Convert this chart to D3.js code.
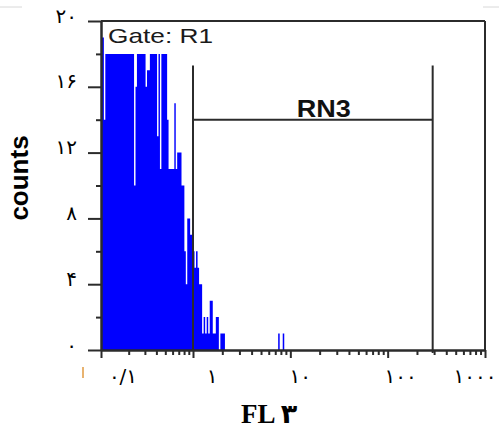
<!DOCTYPE html>
<html><head><meta charset="utf-8">
<script src="https://cdn.jsdelivr.net/npm/d3@7"></script>
<style>html,body{margin:0;padding:0;background:#fff}svg{display:block}</style>
</head><body>
<script>
// ---- data ----
// histogram: 256 log-spaced channels spanning 0.1 .. 1000 (FL3); counts per channel from channel 0
const channelCounts = [
  19,19,14,18,18,18,18,18,18,18,18,18,18,18,18,18,18,18,18,18,
  18,18,18,10,16,18,18,18,18,18,18,16,17,17,18,18,18,18,18,13,
  18,11,18,18,18,18,14,11,11,11,11,15,11,12,12,12,10,10,6,4,
  8,8,7,7,6,5,6,5,4,4,1,2,1,2,1,3,3,1,1,2,
  2,0,1,1,1,0,0,0,0,0,0,0,0,0,0,0,0,0,0,0,
  0,0,0,0,0,0,0,0,0,0,0,0,0,0,0,0,0,0,0,0,
  1,0,0,1,0
];
const channelTotal = 256;
const xDomain = [0.1, 1000];
const yDomain = [0, 20];
const yTickValues = [0, 4, 8, 12, 16, 20];
const yTickLabels = ["۰", "۴", "۸", "۱۲", "۱۶", "۲۰"];
const yMinorTicks = [2, 6, 10, 14, 18];
const xTickValues = [0.1, 1, 10, 100, 1000];
const xTickLabels = ["۰/۱", "۱", "۱۰", "۱۰۰", "۱۰۰۰"];
const gateName = "RN3";
const gateRange = [1, 290];
const gateTopCount = 17.3;
const gateBarCount = 14;
const gateTitle = "Gate: R1";
const yTitle = "counts";
const xTitle = "FL ۳";

// ---- layout / style ----
const W = 499, H = 429;
const xLabelNudge = [22, 19, 10, 13, -10];
const ink = "#2b2b2b";
const lw = 2;

const svg = d3.select("body").append("svg").attr("width", W).attr("height", H)
  .style("background", "#fff");

const x = d3.scaleLog().domain([xDomain[0], 1, xDomain[1]]).range([101, 193, 485]);
const y = d3.scaleLinear().domain(yDomain).range([350, 21]);

const decades = Math.log10(xDomain[1] / xDomain[0]);
const edge = i => xDomain[0] * Math.pow(10, decades * i / channelTotal);

// histogram
const pts = channelCounts.map((c, i) => ({ v: edge(i), c }));
pts.push({ v: edge(channelCounts.length), c: 0 });
svg.append("path")
  .datum(pts)
  .attr("fill", "#0000ff")
  .attr("d", d3.area().curve(d3.curveStepAfter)
    .x(d => x(d.v)).y0(y(0)).y1(d => y(d.c)));

// frame top & right
svg.append("line").attr("x1", x(xDomain[0])).attr("x2", x(xDomain[1]))
  .attr("y1", y(yDomain[1])).attr("y2", y(yDomain[1]))
  .attr("stroke", ink).attr("stroke-width", lw);
svg.append("line").attr("x1", x(xDomain[1])).attr("x2", x(xDomain[1]))
  .attr("y1", y(yDomain[1])).attr("y2", y(0))
  .attr("stroke", ink).attr("stroke-width", lw);

function styleAxis(g) {
  g.select(".domain").attr("stroke", ink).attr("stroke-width", lw);
  g.selectAll(".tick line").attr("stroke", ink).attr("stroke-width", lw);
}

// y axis
const yMinorG = svg.append("g").attr("transform", `translate(${x(xDomain[0])},0)`)
  .call(d3.axisLeft(y).tickValues(yMinorTicks).tickSize(5).tickSizeOuter(0).tickFormat(""));
styleAxis(yMinorG);
const yG = svg.append("g").attr("transform", `translate(${x(xDomain[0])},0)`)
  .call(d3.axisLeft(y).tickValues(yTickValues).tickSize(13).tickSizeOuter(0).tickPadding(11)
    .tickFormat((d, i) => yTickLabels[i]));
styleAxis(yG);
yG.selectAll(".tick text")
  .attr("font-family", "'DejaVu Sans', sans-serif").attr("font-size", 20)
  .attr("fill", "#000").attr("dy", "0.05em");

// x axis
const xMinor = x.ticks().filter(v => !xTickValues.some(t => Math.abs(t - v) / t < 1e-6));
const xMinorG = svg.append("g").attr("transform", `translate(0,${y(0)})`)
  .call(d3.axisBottom(x).tickValues(xMinor).tickSize(5).tickSizeOuter(0).tickFormat(""));
styleAxis(xMinorG);
const xG = svg.append("g").attr("transform", `translate(0,${y(0)})`)
  .call(d3.axisBottom(x).tickValues(xTickValues).tickSize(8).tickSizeOuter(0).tickFormat(""));
styleAxis(xG);
svg.append("g").selectAll("text").data(xTickValues).join("text")
  .attr("x", (d, i) => x(d) + xLabelNudge[i]).attr("y", 383)
  .attr("text-anchor", "middle")
  .attr("font-family", "'DejaVu Sans', sans-serif").attr("font-size", 20)
  .attr("fill", "#000")
  .text((d, i) => xTickLabels[i]);

// gate RN3
const gx0 = x(gateRange[0]), gx1 = x(gateRange[1]);
const gate = svg.append("g").attr("stroke", ink).attr("stroke-width", lw);
gate.append("line").attr("x1", gx0).attr("x2", gx0).attr("y1", y(gateTopCount)).attr("y2", y(0));
gate.append("line").attr("x1", gx1).attr("x2", gx1).attr("y1", y(gateTopCount)).attr("y2", y(0) + 3);
gate.append("line").attr("x1", gx0).attr("x2", gx1).attr("y1", y(gateBarCount)).attr("y2", y(gateBarCount));
svg.append("text").attr("x", (gx0 + gx1) / 2 + 11).attr("y", y(gateBarCount) - 3)
  .attr("text-anchor", "middle")
  .attr("font-family", "'Liberation Sans', Arial, sans-serif").attr("font-weight", "bold")
  .attr("font-size", 24).attr("fill", "#111")
  .attr("textLength", 54).attr("lengthAdjust", "spacingAndGlyphs")
  .text(gateName);

// gate title
svg.append("text").attr("x", 108).attr("y", 43)
  .attr("font-family", "'Liberation Sans', Arial, sans-serif")
  .attr("font-size", 21).attr("fill", "#1a1a1a")
  .attr("textLength", 105).attr("lengthAdjust", "spacingAndGlyphs")
  .text(gateTitle);

// axis titles
svg.append("text").attr("transform", "translate(28,178) rotate(-90)")
  .attr("text-anchor", "middle")
  .attr("font-family", "'Liberation Sans', Arial, sans-serif").attr("font-weight", "bold")
  .attr("font-size", 26).attr("fill", "#000")
  .text(yTitle);
svg.append("text").attr("x", 241).attr("y", 423)
  .attr("font-family", "'Liberation Serif', 'Times New Roman', 'DejaVu Sans', serif")
  .attr("font-weight", "bold").attr("font-size", 27).attr("fill", "#000")
  .text(xTitle);

// small scan artefacts
svg.append("line").attr("x1", 0).attr("x2", 22).attr("y1", 7).attr("y2", 7).attr("stroke", "#d8d8d8");
svg.append("line").attr("x1", 483).attr("x2", 499).attr("y1", 7).attr("y2", 7).attr("stroke", "#d8d8d8");
svg.append("line").attr("x1", 83).attr("x2", 83).attr("y1", 367).attr("y2", 378)
  .attr("stroke", "#e09a40").attr("stroke-width", 1.5);
</script>
</body></html>
